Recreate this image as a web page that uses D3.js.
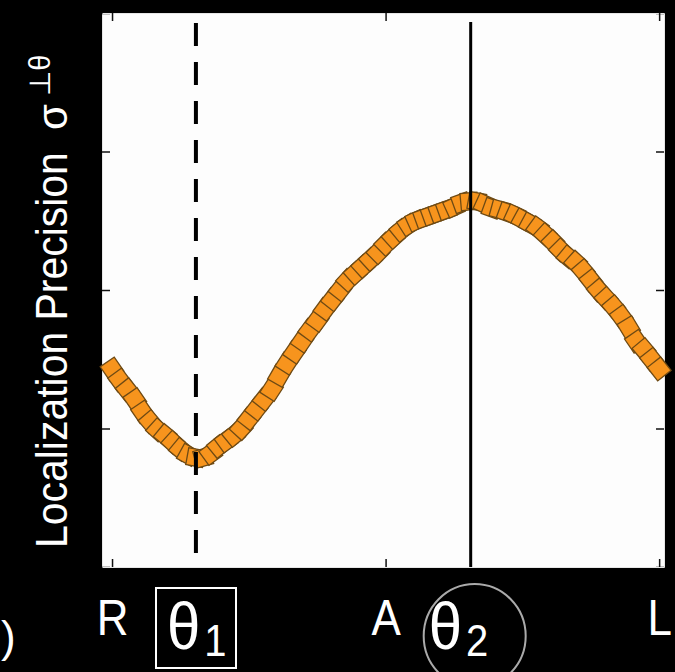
<!DOCTYPE html>
<html>
<head>
<meta charset="utf-8">
<script src="https://cdn.jsdelivr.net/npm/d3@7"></script>
<style>
  html, body { margin: 0; padding: 0; background: #000; }
  svg { display: block; }
  text { font-family: "Liberation Sans", Arial, "DejaVu Sans", sans-serif; fill: #fff; }
</style>
</head>
<body>
<svg id="chart" width="675" height="672"></svg>
<script>
// ---- data ----
const angles = [-90,-87.5,-85,-82.5,-80,-77.5,-75,-72.5,-70,-67.5,-65,-62.5,-60,-57.5,-55,-52.5,-50,-47.5,-45,-42.5,-40,-37.5,-35,-32.5,-30,-27.5,-25,-22.5,-20,-17.5,-15,-12.5,-10,-7.5,-5,-2.5,0,2.5,5,7.5,10,12.5,15,17.5,20,22.5,25,27.5,30,32.5,35,37.5,40,42.5,45,47.5,50,52.5,55,57.5,60,62.5,65,67.5,70,72.5,75,77.5,80,82.5,85,87.5,90];
const precision = [1.43,1.35,1.28,1.21,1.12,1.05,0.99,0.95,0.90,0.85,0.81,0.79,0.79,0.82,0.87,0.91,0.95,1.00,1.07,1.14,1.21,1.28,1.38,1.47,1.55,1.63,1.71,1.78,1.86,1.93,2.00,2.07,2.12,2.17,2.22,2.27,2.33,2.38,2.43,2.47,2.50,2.52,2.54,2.56,2.58,2.60,2.63,2.64,2.64,2.62,2.59,2.58,2.56,2.54,2.51,2.48,2.45,2.40,2.35,2.29,2.24,2.20,2.14,2.07,2.00,1.94,1.88,1.81,1.73,1.63,1.57,1.50,1.43];
const xTickValues = [-90, 0, 90];
const xTickLabels = ["R", "A", "L"];
const yTickValues = [0, 1, 2, 3, 4];
const thetaAngles = [-62.4, 28];
const thetaSubs = ["1", "2"];

// ---- layout ----
const svg = d3.select("#chart");
const L = 102, R = 664, T = 13, B = 567;
const x = d3.scaleLinear().domain([-93.3, 91.6]).range([L, R]);
const y = d3.scaleLinear().domain([0, 4]).range([B, T]);

// plot background
svg.append("rect").attr("x", L).attr("y", T).attr("width", R - L).attr("height", B - T)
  .attr("fill", "#fdfdfd");

// axes (inner ticks, no labels)
function styleAxis(g) {
  g.selectAll(".domain").attr("stroke", "#e6e6e6").attr("stroke-width", 1);
  g.selectAll(".tick line").attr("stroke", "#111").attr("stroke-width", 1.5);
  g.selectAll(".tick text").remove();
}
svg.append("g").attr("transform", `translate(${L},0)`)
  .call(d3.axisLeft(y).tickValues(yTickValues).tickSize(-8).tickSizeOuter(0)).call(styleAxis);
svg.append("g").attr("transform", `translate(${R},0)`)
  .call(d3.axisRight(y).tickValues(yTickValues).tickSize(-8).tickSizeOuter(0)).call(styleAxis);
svg.append("g").attr("transform", `translate(0,${T})`)
  .call(d3.axisTop(x).tickValues(xTickValues).tickSize(-8).tickSizeOuter(0)).call(styleAxis);
const xb = svg.append("g").attr("transform", `translate(0,${B})`)
  .call(d3.axisBottom(x).tickValues(xTickValues).tickSize(-8).tickSizeOuter(0));
xb.selectAll(".domain").attr("stroke", "#e6e6e6");
xb.selectAll(".tick line").attr("stroke", "#111").attr("stroke-width", 1.5);
xb.selectAll(".tick text").remove();
xb.selectAll(".tick").append("text")
  .attr("text-anchor", "middle")
  .attr("transform", "translate(0,68) scale(1,1.15)")
  .attr("font-size", 44)
  .attr("fill", "#fff")
  .text((d, i) => xTickLabels[i]);

// markers (squares aligned with the local direction of the curve)
const pts = angles.map((a, i) => ({ px: x(a), py: y(precision[i]) }));
pts.forEach((p, i) => {
  const a = pts[Math.max(0, i - 1)], b = pts[Math.min(pts.length - 1, i + 1)];
  p.rot = Math.atan2(b.py - a.py, b.px - a.px) * 180 / Math.PI;
});
const s = 17;
svg.append("g").selectAll("rect").data(pts).join("rect")
  .attr("x", -s / 2).attr("y", -s / 2).attr("width", s).attr("height", s)
  .attr("transform", d => `translate(${d.px},${d.py}) rotate(${d.rot})`)
  .attr("fill", "#f7941d").attr("stroke", "#6e4a14").attr("stroke-width", 1.3);

// vertical theta lines
svg.append("line").attr("x1", x(thetaAngles[0])).attr("x2", x(thetaAngles[0]))
  .attr("y1", 23).attr("y2", B + 4)
  .attr("stroke", "#000").attr("stroke-width", 4).attr("stroke-dasharray", "23,16");
svg.append("line").attr("x1", x(thetaAngles[1])).attr("x2", x(thetaAngles[1]))
  .attr("y1", 22).attr("y2", B)
  .attr("stroke", "#000").attr("stroke-width", 3);

// theta labels
function thetaLabel(cx, sub) {
  const t = svg.append("text")
    .attr("transform", `translate(${cx - 29},${649}) scale(1,1.12)`)
    .attr("font-size", 60);
  t.append("tspan").text("θ");
  t.append("tspan").attr("font-size", 40).attr("dx", 4).attr("dy", 6).text(sub);
}
thetaLabel(x(thetaAngles[0]), thetaSubs[0]);
thetaLabel(x(thetaAngles[1]) - 13, thetaSubs[1]);
svg.append("rect").attr("x", 156).attr("y", 588).attr("width", 80).attr("height", 80)
  .attr("fill", "none").attr("stroke", "#fff").attr("stroke-width", 2);
svg.append("ellipse").attr("cx", x(thetaAngles[1]) + 4).attr("cy", 636).attr("rx", 51).attr("ry", 52)
  .attr("fill", "none").attr("stroke", "#aaa").attr("stroke-width", 2);

// y label (scaled along its length to span the reference extent)
const ylab = svg.append("text")
  .attr("font-size", 44)
  .text("Localization Precision");
let len = 0;
try { len = ylab.node().getComputedTextLength(); } catch (e) { len = 0; }
const k = len > 0 ? Math.min(1.3, Math.max(0.8, 396 / len)) : 1;
ylab.attr("transform", `translate(67,548) rotate(-90) scale(${k},1)`);
const ys = svg.append("text")
  .attr("transform", "translate(67,130) rotate(-90)")
  .attr("font-size", 42);
ys.append("tspan").text("σ");
ys.append("tspan").attr("font-size", 29).attr("dx", 8).attr("dy", -17).text("⊥θ");

// panel label remnant at left edge
svg.append("text").attr("x", 1).attr("y", 652).attr("font-size", 44).text(")");
</script>
</body>
</html>
